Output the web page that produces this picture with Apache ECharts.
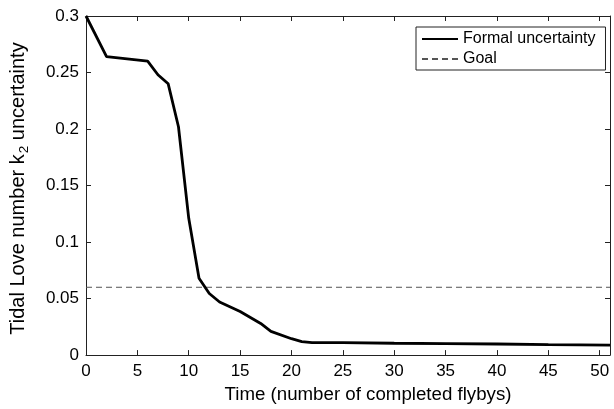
<!DOCTYPE html>
<html>
<head>
<meta charset="utf-8">
<script src="https://cdn.jsdelivr.net/npm/echarts@6/dist/echarts.min.js"></script>
<style>
html,body{margin:0;padding:0;background:#fff;}
#chart{width:614px;height:409px;}
</style>
</head>
<body>
<div id="chart"></div>
<script>
// k2 uncertainty vs number of flybys
var flybys = [0, 2, 6, 7, 8, 9, 10, 11, 12, 13, 15, 17, 18, 20, 21, 22, 25, 30, 35, 40, 45, 51];
var formalUnc = [0.3, 0.264, 0.26, 0.248, 0.24, 0.202, 0.121, 0.068, 0.0545, 0.047, 0.0385, 0.028, 0.021, 0.0145, 0.012, 0.011, 0.011, 0.0105, 0.0102, 0.0098, 0.0093, 0.0088];
var goalX = [0, 51];
var goalY = [0.06, 0.06];
var xTicks = [0, 5, 10, 15, 20, 25, 30, 35, 40, 45, 50];

var font = 'Liberation Sans, Arial, Helvetica, sans-serif';
var myChart = echarts.init(document.getElementById('chart'));

var lineData = [];
for (var i = 0; i < flybys.length; i++) {
	lineData.push([flybys[i], formalUnc[i]]);
}
var goalData = [];
for (var j = 0; j < goalX.length; j++) {
	goalData.push([goalX[j], goalY[j]]);
}

function axisBase(pos, showLabel) {
	return {
		type: 'value',
		position: pos,
		axisLine: {show: true, onZero: false, lineStyle: {color: '#222', width: 1}},
		axisTick: {show: true, inside: true, length: 5, lineStyle: {color: '#222'}},
		splitLine: {show: false},
		axisLabel: {show: showLabel, color: '#000', fontSize: 17, fontFamily: font}
	};
}

var xBottom = axisBase('bottom', true);
xBottom.min = 0; xBottom.max = 51; xBottom.interval = 5;
xBottom.axisLabel.margin = 8;
xBottom.axisLabel.showMaxLabel = false;
xBottom.axisLabel.formatter = function (v) { return xTicks.indexOf(v) >= 0 ? String(v) : ''; };
xBottom.name = 'Time (number of completed flybys)';
xBottom.nameLocation = 'middle';
xBottom.nameGap = 28;
xBottom.nameTextStyle = {color: '#000', fontSize: 18.7, fontFamily: font, padding: [0, 0, 0, 40]};

var xTop = axisBase('top', false);
xTop.min = 0; xTop.max = 51; xTop.interval = 5;

var yLeft = axisBase('left', true);
yLeft.min = 0; yLeft.max = 0.3; yLeft.interval = 0.05;
yLeft.axisLabel.margin = 7;
yLeft.axisLabel.formatter = function (v) { return String(Math.round(v * 100) / 100); };
yLeft.name = '{m|Tidal Love number k}{s|2}{m| uncertainty}';
yLeft.nameLocation = 'middle';
yLeft.nameGap = 54;
yLeft.nameTextStyle = {
	color: '#000', fontSize: 20, fontFamily: font, padding: [0, 6, 0, 0],
	rich: {
		m: {fontSize: 20, fontFamily: font, color: '#000', verticalAlign: 'top', lineHeight: 24},
		s: {fontSize: 13.5, fontFamily: font, color: '#000', verticalAlign: 'top', lineHeight: 24, padding: [9, 0, 0, 1]}
	}
};

var yRight = axisBase('right', false);
yRight.min = 0; yRight.max = 0.3; yRight.interval = 0.05;

var option = {
	animation: false,
	backgroundColor: '#fff',
	grid: {left: 82, right: 4, top: 16, bottom: 50},
	legend: {
		orient: 'vertical',
		left: 416,
		top: 27,
		itemWidth: 36,
		itemHeight: 18,
		itemGap: 2,
		padding: [3, 10, 2, 5],
		borderColor: '#222',
		borderWidth: 1,
		backgroundColor: '#fff',
		itemStyle: {opacity: 0},
		textStyle: {color: '#000', fontSize: 16, fontFamily: font, lineHeight: 18},
		data: ['Formal uncertainty', 'Goal']
	},
	xAxis: [xBottom, xTop],
	yAxis: [yLeft, yRight],
	series: [
		{
			name: 'Formal uncertainty',
			type: 'line',
			xAxisIndex: 0,
			yAxisIndex: 0,
			data: lineData,
			symbol: 'none',
			lineStyle: {color: '#000', width: 2.8},
			itemStyle: {color: '#000'},
			z: 3
		},
		{
			name: 'Goal',
			type: 'line',
			xAxisIndex: 0,
			yAxisIndex: 0,
			data: goalData,
			symbol: 'none',
			lineStyle: {color: '#555', width: 1, type: [6, 4]},
			itemStyle: {color: '#555'},
			z: 2
		}
	]
};
option && myChart.setOption(option);
</script>
</body>
</html>
